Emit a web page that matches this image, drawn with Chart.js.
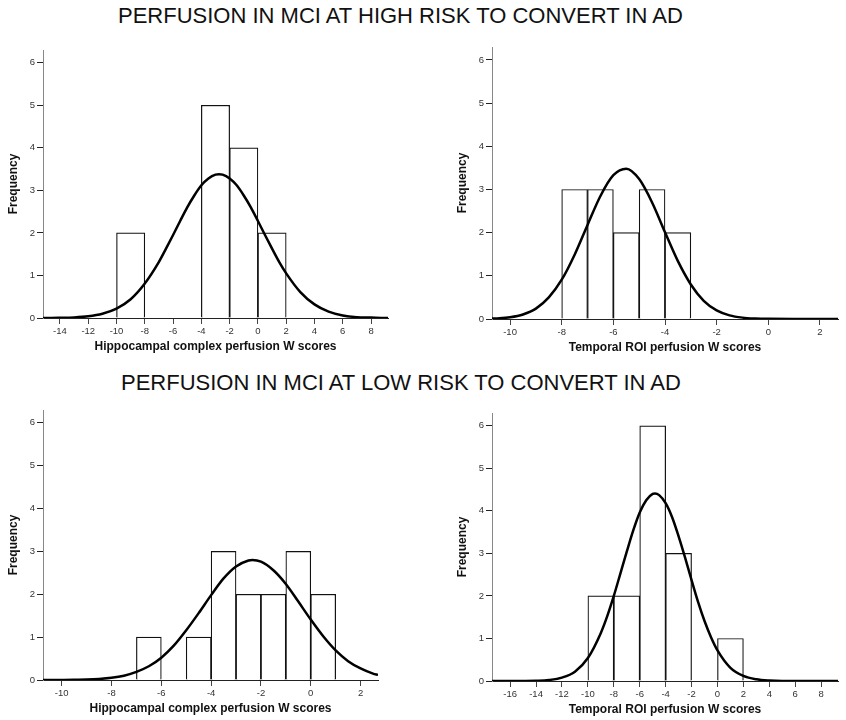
<!DOCTYPE html>
<html>
<head>
<meta charset="utf-8">
<title>Perfusion W scores in MCI</title>
<script src="https://cdn.jsdelivr.net/npm/chart.js@4.4.1/dist/chart.umd.min.js"></script>
<style>
  body { margin: 0; background: #fff; }
  #page { position: relative; width: 846px; height: 720px; overflow: hidden; background: #fff; }
  .title {
    position: absolute;
    font: 22px "Liberation Sans", Arial, sans-serif;
    line-height: 1;
    white-space: nowrap;
    color: #111;
  }
  canvas { position: absolute; }
</style>
</head>
<body>
<div id="page">
  <div class="title" style="left:118px;top:5px">PERFUSION IN MCI AT HIGH RISK TO CONVERT IN AD</div>
  <div class="title" style="left:121px;top:372px">PERFUSION IN MCI AT LOW RISK TO CONVERT IN AD</div>
</div>
<script>
// ---- data ----
const freqTicks = [0, 1, 2, 3, 4, 5, 6];

// high risk, hippocampal complex (bin width 2)
const hiHippoTicks = [-14, -12, -10, -8, -6, -4, -2, 0, 2, 4, 6, 8];
const hiHippoBins = [-9, -3, -1, 1];
const hiHippoCounts = [2, 5, 4, 2];
const hiHippoCurveX = [-15.2, -15, -14, -13, -12, -11, -10, -9, -8, -7, -6.5, -6, -5.5, -5, -4.5, -4, -3.5, -3, -2.75, -2.5, -2, -1.5, -1, -0.5, 0, 0.5, 1, 1.5, 2, 3, 4, 5, 6, 7, 8, 9, 9.2];
const hiHippoCurveY = [0, 0, 0.005, 0.014, 0.04, 0.10, 0.22, 0.44, 0.81, 1.32, 1.63, 1.95, 2.28, 2.60, 2.88, 3.12, 3.28, 3.37, 3.38, 3.37, 3.28, 3.12, 2.88, 2.60, 2.28, 1.95, 1.63, 1.32, 1.05, 0.61, 0.32, 0.15, 0.06, 0.02, 0.01, 0, 0];

// high risk, temporal ROI (bin width 1)
const hiTempTicks = [-10, -8, -6, -4, -2, 0, 2];
const hiTempBins = [-7.5, -6.5, -5.5, -4.5, -3.5];
const hiTempCounts = [3, 3, 2, 3, 2];
const hiTempCurveX = [-10.7, -10.5, -10, -9.5, -9, -8.5, -8, -7.5, -7, -6.5, -6, -5.5, -5, -4.5, -4, -3.5, -3, -2.5, -2, -1.5, -1, -0.5, 0, 1, 2, 2.7];
const hiTempCurveY = [0.009, 0.014, 0.04, 0.105, 0.24, 0.50, 0.91, 1.49, 2.18, 2.85, 3.33, 3.48, 3.24, 2.70, 2.01, 1.34, 0.80, 0.42, 0.20, 0.085, 0.032, 0.011, 0.003, 0, 0, 0];

// low risk, hippocampal complex (bin width 1)
const loHippoTicks = [-10, -8, -6, -4, -2, 0, 2];
const loHippoBins = [-6.5, -4.5, -3.5, -2.5, -1.5, -0.5, 0.5];
const loHippoCounts = [1, 1, 3, 2, 2, 3, 2];
const loHippoCurveX = [-10.75, -10.5, -10, -9.5, -9, -8.5, -8, -7.5, -7, -6.5, -6, -5.5, -5, -4.5, -4, -3.5, -3, -2.5, -2.34, -2, -1.5, -1, -0.5, 0, 0.5, 1, 1.5, 2, 2.5, 2.7];
const loHippoCurveY = [0, 0, 0.002, 0.005, 0.011, 0.024, 0.05, 0.10, 0.19, 0.32, 0.52, 0.80, 1.16, 1.56, 1.98, 2.37, 2.65, 2.79, 2.80, 2.76, 2.56, 2.24, 1.83, 1.41, 1.02, 0.69, 0.44, 0.27, 0.15, 0.12];

// low risk, temporal ROI (bin width 2)
const loTempTicks = [-16, -14, -12, -10, -8, -6, -4, -2, 0, 2, 4, 6, 8];
const loTempBins = [-9, -7, -5, -3, 1];
const loTempCounts = [2, 2, 6, 3, 1];
const loTempCurveX = [-17.4, -17, -16, -15, -14, -13, -12, -11, -10, -9, -8.5, -8, -7.5, -7, -6.5, -6, -5.5, -5, -4.82, -4.5, -4, -3.5, -3, -2.5, -2, -1.5, -1, -0.5, 0, 1, 2, 3, 4, 5, 6, 7, 8, 9.3];
const loTempCurveY = [0, 0, 0, 0.001, 0.006, 0.024, 0.08, 0.22, 0.54, 1.13, 1.53, 2.00, 2.52, 3.04, 3.54, 3.96, 4.25, 4.40, 4.41, 4.37, 4.18, 3.85, 3.40, 2.90, 2.37, 1.86, 1.41, 1.03, 0.72, 0.31, 0.12, 0.04, 0.01, 0, 0, 0, 0, 0];

// ---- layout: plot area of each panel in page pixels ----
const panels = [
  { area: [43, 50, 388, 318], xMin: -15.2, xMax: 9.2, label: 'Hippocampal complex perfusion W scores',
    ticks: hiHippoTicks, bins: hiHippoBins, counts: hiHippoCounts, cx: hiHippoCurveX, cy: hiHippoCurveY },
  { area: [492, 47, 838, 319], xMin: -10.7, xMax: 2.7, label: 'Temporal ROI perfusion W scores',
    ticks: hiTempTicks, bins: hiTempBins, counts: hiTempCounts, cx: hiTempCurveX, cy: hiTempCurveY },
  { area: [43, 410, 378, 680], xMin: -10.75, xMax: 2.7, label: 'Hippocampal complex perfusion W scores',
    ticks: loHippoTicks, bins: loHippoBins, counts: loHippoCounts, cx: loHippoCurveX, cy: loHippoCurveY },
  { area: [492, 413, 838, 681], xMin: -17.4, xMax: 9.3, label: 'Temporal ROI perfusion W scores',
    ticks: loTempTicks, bins: loTempBins, counts: loTempCounts, cx: loTempCurveX, cy: loTempCurveY }
];

const FONT = '"Liberation Sans", Arial, sans-serif';
const Y_AXIS_W = 41;
const X_AXIS_H = 40;
const PAD = { left: 2, top: 10, right: 6, bottom: 0 };

Chart.defaults.font.family = FONT;

function makePanel(p) {
  const [l, t, r, b] = p.area;
  const canvas = document.createElement('canvas');
  const w = r - l + Y_AXIS_W + PAD.left + PAD.right;
  const h = b - t + PAD.top + X_AXIS_H;
  canvas.width = w;
  canvas.height = h;
  canvas.style.width = w + 'px';
  canvas.style.height = h + 'px';
  canvas.style.left = (l - Y_AXIS_W - PAD.left) + 'px';
  canvas.style.top = (t - PAD.top) + 'px';
  document.getElementById('page').appendChild(canvas);

  new Chart(canvas.getContext('2d'), {
    type: 'bar',
    data: {
      datasets: [
        {
          type: 'line',
          data: p.cx.map((x, i) => ({ x: x, y: p.cy[i] })),
          borderColor: '#000',
          borderWidth: 2.5,
          pointRadius: 0,
          fill: false,
          cubicInterpolationMode: 'monotone',
          order: 0
        },
        {
          type: 'bar',
          data: p.bins.map((x, i) => ({ x: x, y: p.counts[i] })),
          backgroundColor: '#fff',
          borderColor: '#111',
          borderWidth: 1.2,
          barPercentage: 1,
          categoryPercentage: 1,
          order: 1
        }
      ]
    },
    options: {
      responsive: false,
      animation: false,
      layout: { padding: PAD },
      plugins: { legend: { display: false }, tooltip: { enabled: false } },
      scales: {
        x: {
          type: 'linear',
          min: p.xMin,
          max: p.xMax,
          offset: false,
          afterBuildTicks: s => { s.ticks = p.ticks.map(v => ({ value: v })); },
          afterFit: s => { s.height = X_AXIS_H; },
          border: { color: '#222', width: 1 },
          grid: { offset: false, drawOnChartArea: false, tickLength: 6, tickColor: '#444' },
          ticks: { color: '#333', font: { size: 9.5 }, padding: 2, maxRotation: 0, autoSkip: false },
          title: { display: true, text: p.label, color: '#111', font: { size: 12, weight: 'bold' }, padding: { top: 4, bottom: 4 } }
        },
        y: {
          min: 0,
          max: 6.3,
          afterBuildTicks: s => { s.ticks = freqTicks.map(v => ({ value: v })); },
          afterFit: s => { s.width = Y_AXIS_W; },
          border: { color: '#888', width: 1, dash: [1, 1] },
          grid: { drawOnChartArea: false, tickLength: 6, tickColor: '#222' },
          ticks: { color: '#333', font: { size: 9.5 }, padding: 2 },
          title: { display: true, text: 'Frequency', color: '#111', font: { size: 12, weight: 'bold' }, padding: { top: 4, bottom: 4 } }
        }
      }
    }
  });
}

panels.forEach(makePanel);
</script>
</body>
</html>
